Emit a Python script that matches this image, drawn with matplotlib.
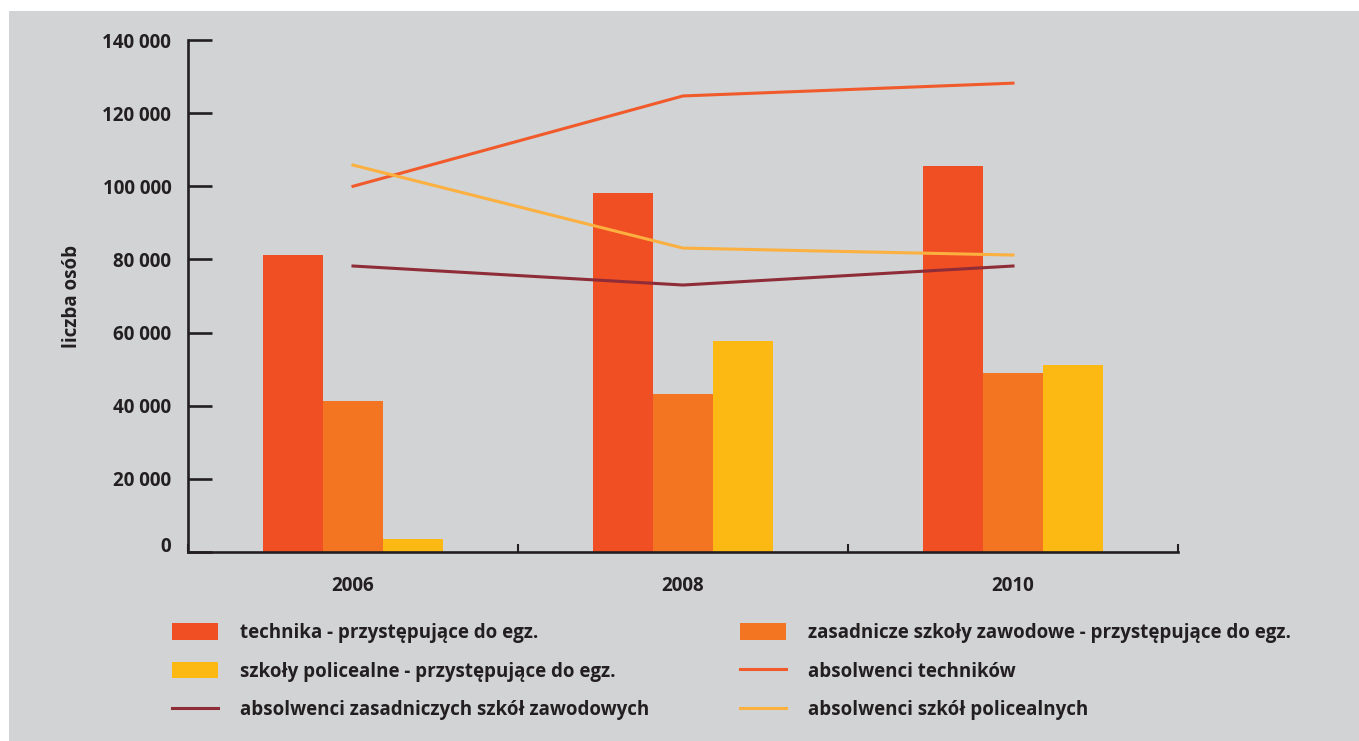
import matplotlib
matplotlib.use("Agg")
import matplotlib.pyplot as plt
from matplotlib.patches import Rectangle, Patch
from matplotlib.lines import Line2D
import matplotlib.transforms as mtransforms
import numpy as np

years = ["2006", "2008", "2010"]
technika = [81200, 98200, 105500]
zasadnicze = [41300, 43200, 48900]
policealne = [3600, 57700, 51100]
abs_technikow = [100000, 124700, 128200]
abs_zasadniczych = [78200, 73000, 78200]
abs_policealnych = [105800, 83100, 81200]
yticks = [0, 20000, 40000, 60000, 80000, 100000, 120000, 140000]
ytick_labels = ["0", "20 000", "40 000", "60 000", "80 000", "100 000", "120 000", "140 000"]

C_TECH = "#f04e23"
C_ZAS = "#f37421"
C_POL = "#fdb913"
C_ABS_TECH = "#f15a2b"
C_ABS_ZAS = "#8e2c38"
C_ABS_POL = "#fbb040"
TXT = "#231f20"
BG = "#d1d3d4"

plt.rcParams['font.family'] = ['Open Sans', 'DejaVu Sans']
plt.rcParams['font.weight'] = 'bold'
FS = 13.5

W, H = 1359, 741
fig = plt.figure(figsize=(W / 100, H / 100), dpi=100, facecolor="white")
fig.patches.append(Rectangle((9 / W, 0), 1 - 9 / W, 1 - 11 / H, transform=fig.transFigure,
                             facecolor=BG, edgecolor="none", zorder=-10))

ax = fig.add_axes([188 / W, (H - 552) / H, 990 / W, 512 / H])
ax.set_facecolor("none")

x = np.arange(len(years))
bw = 60 / 330
ax.bar(x - bw, technika, bw, color=C_TECH, zorder=2)
ax.bar(x, zasadnicze, bw, color=C_ZAS, zorder=2)
ax.bar(x + bw, policealne, bw, color=C_POL, zorder=2)
lw = 2.2
ax.plot(x, abs_technikow, color=C_ABS_TECH, lw=lw, zorder=3)
ax.plot(x, abs_zasadniczych, color=C_ABS_ZAS, lw=lw, zorder=3)
ax.plot(x, abs_policealnych, color=C_ABS_POL, lw=lw, zorder=3)

ax.set_xlim(-0.5, 2.5)
ax.set_ylim(0, 140000)
for s in ["top", "right"]:
    ax.spines[s].set_visible(False)
for s in ["left", "bottom"]:
    ax.spines[s].set_color(TXT)
    ax.spines[s].set_linewidth(1.9)

ax.set_yticks(yticks)
ax.set_yticklabels(ytick_labels)
ax.tick_params(axis="y", direction="in", length=17, width=1.9, color=TXT, pad=12,
               labelsize=FS, labelcolor=TXT)
ax.set_xticks([-0.5, 0.5, 1.5, 2.5])
ax.set_xticklabels([])
ax.tick_params(axis="x", which="major", direction="in", length=5.5, width=1.5, color=TXT)
ax.set_xticks(x, minor=True)
ax.set_xticklabels(years, minor=True)
ax.tick_params(axis="x", which="minor", length=0, pad=17, labelsize=FS, labelcolor=TXT)
for lab in ax.get_yticklabels() + ax.get_xticklabels(minor=True):
    lab.set_fontweight("bold")

# the "0" label sits slightly above the axis line in the original
zero_lab = ax.yaxis.get_major_ticks()[0].label1
zero_lab.set_transform(zero_lab.get_transform() +
                       mtransforms.ScaledTranslation(0, 7 / 100, fig.dpi_scale_trans))

ax.set_ylabel("liczba osób", fontsize=FS, fontweight="bold", color=TXT)
ax.yaxis.set_label_coords(-0.107, 0.5)

# Legend
h_tech = Patch(facecolor=C_TECH, edgecolor="none")
h_zas = Patch(facecolor=C_ZAS, edgecolor="none")
h_pol = Patch(facecolor=C_POL, edgecolor="none")
h_at = Line2D([], [], color=C_ABS_TECH, lw=lw)
h_az = Line2D([], [], color=C_ABS_ZAS, lw=lw)
h_ap = Line2D([], [], color=C_ABS_POL, lw=lw)

common = dict(frameon=False, handlelength=2.45, handleheight=0.96,
              handletextpad=1.2, labelspacing=0.99, borderpad=0, borderaxespad=0,
              loc="upper left", labelcolor=TXT, prop={'weight': 'bold', 'size': FS})
leg1 = fig.legend([h_tech, h_pol, h_az],
                  ["technika - przystępujące do egz.",
                   "szkoły policealne - przystępujące do egz.",
                   "absolwenci zasadniczych szkół zawodowych"],
                  bbox_to_anchor=(172 / W, (H - 623) / H), **common)
leg2 = fig.legend([h_zas, h_at, h_ap],
                  ["zasadnicze szkoły zawodowe - przystępujące do egz.",
                   "absolwenci techników",
                   "absolwenci szkół policealnych"],
                  bbox_to_anchor=(740 / W, (H - 623) / H), **common)

fig.savefig("out.png", dpi=100, facecolor=fig.get_facecolor())
